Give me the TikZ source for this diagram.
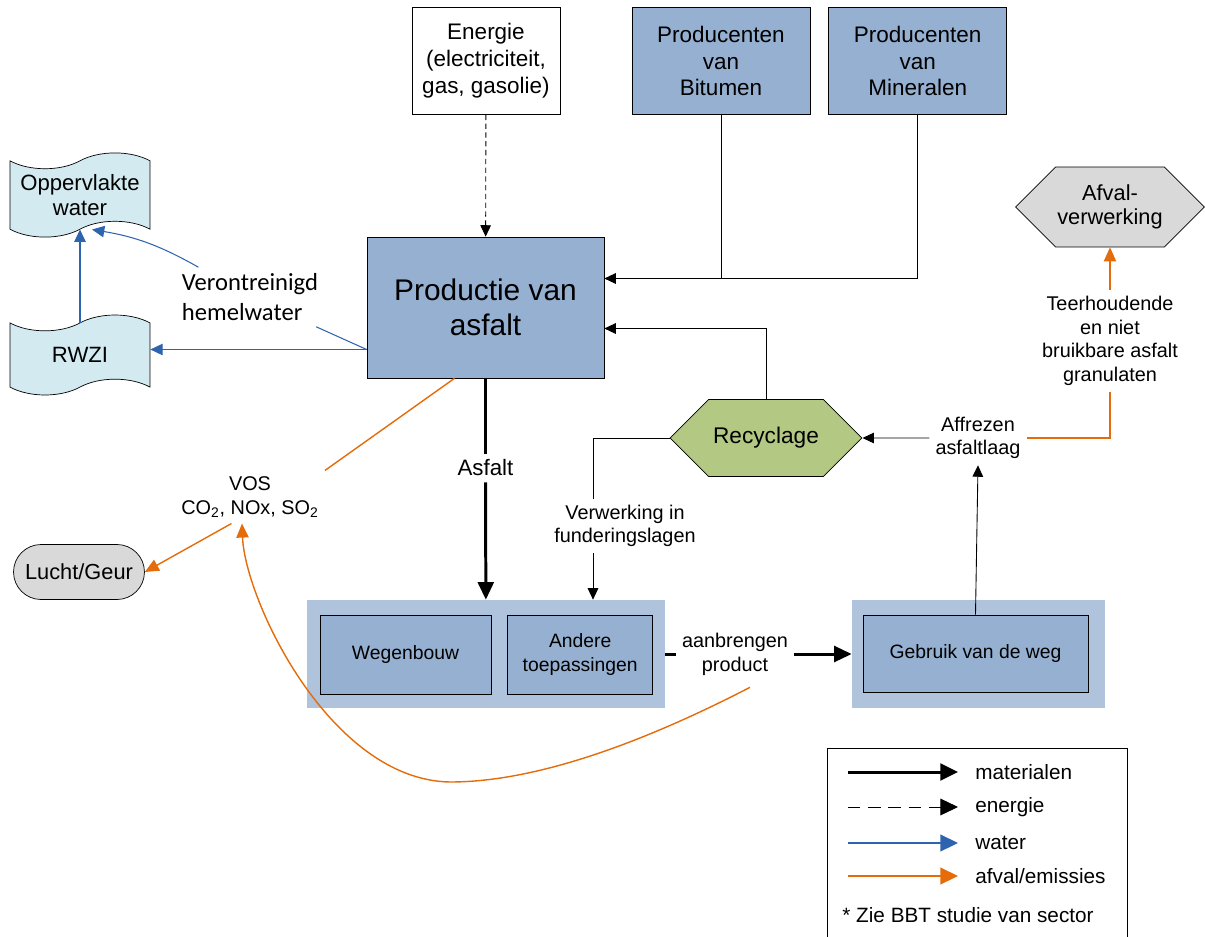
\documentclass[tikz,border=0pt]{standalone}
\usepackage{fontspec}
\setmainfont{Liberation Sans}
\newfontfamily\calibri{Carlito}
\usepackage{xcolor}
\usetikzlibrary{arrows.meta,positioning,shapes.geometric,shapes.symbols,shapes.misc}

\definecolor{boxblue}{RGB}{149,176,208}
\definecolor{grpblue}{RGB}{176,195,220}
\definecolor{recgreen}{RGB}{179,200,130}
\definecolor{tapecyan}{RGB}{210,234,240}
\definecolor{wastegray}{RGB}{217,217,217}
\definecolor{waterblue}{RGB}{46,100,175}
\definecolor{emisorange}{RGB}{228,108,10}

\begin{document}
\begin{tikzpicture}[x=0.02cm,y=-0.02cm,
box/.style={draw,align=center,inner sep=2pt,font=\fontsize{12.8}{15.3}\selectfont},
bluebox/.style={box,fill=boxblue},
group/.style={fill=grpblue,inner sep=0pt},
inbox/.style={draw,fill=boxblue,align=center,inner sep=2pt,minimum height=1.58cm,font=\fontsize{11}{13.6}\selectfont},
hexa/.style={signal,signal to=east and west,draw,align=center,inner sep=1pt},
tapebox/.style={tape,draw,fill=tapecyan,align=center,tape bend height=9pt,minimum width=2.8cm,minimum height=1.6cm,font=\fontsize{12.6}{14}\selectfont},
lbl/.style={align=center,font=\fontsize{11.3}{13.5}\selectfont},
leg/.style={anchor=west,inner sep=0pt,font=\fontsize{11.8}{14}\selectfont},
thinline/.style={line width=0.5pt},
matflow/.style={line width=1.7pt},
matarrow/.style={matflow,-{Triangle[length=10pt,width=9pt]}},
thinarrow/.style={thinline,-{Triangle[length=6.5pt,width=6pt]}},
enarrow/.style={thinarrow,dash pattern=on 3pt off 2pt},
waterline/.style={waterblue,line width=0.6pt},
waterarrow/.style={waterline,-{Triangle[length=7pt,width=6.5pt]}},
emisline/.style={emisorange,line width=0.8pt},
emisarrow/.style={emisline,-{Triangle[length=8pt,width=7pt]}},
leghead/.style={-{Triangle[length=10pt,width=9.5pt]}}
]
\useasboundingbox (0,0) rectangle (1205,937);

% sources
\node[box,minimum width=2.96cm,minimum height=2.14cm] (ene) at (486,61) {Energie\\(electriciteit,\\gas, gasolie)};
\node[bluebox,minimum width=3.56cm,minimum height=2.14cm] (bit) at (721,61) {Producenten\\van\\Bitumen};
\node[bluebox,minimum width=3.56cm,minimum height=2.14cm,right=0.36cm of bit] (min) {Producenten\\van\\Mineralen};

% production
\node[bluebox,minimum width=4.74cm,minimum height=2.82cm,font=\fontsize{17}{19.8}\selectfont] (prod) at (485.5,307.5) {Productie van\\asfalt};

% water
\node[tapebox] (opp) at (80,195) {Oppervlakte\\water};
\node[tapebox] (rwzi) at (80,355) {RWZI};
\node[align=left,font=\calibri\fontsize{14}{17}\selectfont] (hw) at (250,297) {Verontreinigd\\hemelwater};

% air and waste
\node[lbl] (vos) at (250,497) {VOS\\CO\textsubscript{2}, NOx, SO\textsubscript{2}};
\node[rounded rectangle,draw,fill=wastegray,inner xsep=2pt,minimum width=2.76cm,minimum height=1.1cm,font=\fontsize{12.4}{14}\selectfont] (lucht) at (79,572) {Lucht/Geur};
\node[hexa,fill=wastegray,minimum width=3.78cm,minimum height=1.6cm,font=\fontsize{12.4}{14}\selectfont] (afv) at (1110,207) {Afval-\\verwerking};
\node[lbl] (teer) at (1110,341) {Teerhoudende\\en niet\\bruikbare asfalt\\granulaten};

% recycling
\node[hexa,fill=recgreen,minimum width=3.84cm,minimum height=1.54cm,font=\fontsize{12.9}{15}\selectfont] (rec) at (766,438) {Recyclage};
\node[lbl] (aff) at (978,438) {Affrezen\\asfaltlaag};
\node[lbl] (verw) at (625,526) {Verwerking in\\funderingslagen};
\node[font=\fontsize{12.7}{15}\selectfont] (asf) at (485.5,468) {Asfalt};

% application and use
\node[group,minimum width=7.16cm,minimum height=2.16cm] (grp1) at (486,654) {};
\node[inbox,minimum width=3.42cm] (weg) at (405.5,654.5) {Wegenbouw};
\node[inbox,minimum width=2.9cm,right=0.32cm of weg] (andere) {Andere\\toepassingen};
\node[group,minimum width=5.06cm,minimum height=2.16cm] (grp2) at (978.5,654) {};
\node[inbox,minimum width=4.5cm,minimum height=1.54cm] (geb) at (975.5,653.5) {Gebruik van de weg};
\node[lbl] (aan) at (735,654) {aanbrengen\\product};

% connectors
\draw[enarrow] (ene) -- (prod);
\coordinate (pin1) at ([shift={(0,-29)}]prod.east);
\coordinate (pin2) at ([shift={(0,21)}]prod.east);
\draw[thinline] (bit.south) -- (bit.south |- pin1);
\draw[thinarrow] (min.south) |- (pin1);
\draw[thinarrow] (rec.north) |- (pin2);
\draw[matflow] (prod) -- (asf);
\draw[matarrow] (asf) -- (grp1);
\draw[matflow] (grp1.east) -- (aan);
\draw[matarrow] (aan) -- (grp2.west);
\coordinate (vtop) at ([shift={(-32,0)}]verw.north);
\coordinate (vbot) at ([shift={(-32,0)}]verw.south);
\draw[thinline] (rec.west) -| (vtop);
\draw[thinarrow] (vbot) -- (vbot |- grp1.north);
\draw[thinarrow] (aff) -- (rec);
\draw[thinarrow] (geb.north) -- (aff.south);

\coordinate (pw) at ([shift={(0,42)}]prod.west);
\draw[waterarrow] (pw) -- (pw -| rwzi.east);
\draw[waterline] (pw) -- (hw);
\draw[waterarrow] (hw.150) to[bend right=10] ([shift={(12,0)}]opp.south);
\draw[waterarrow] (rwzi.north) -- (opp.south);

\draw[emisline] ([shift={(-31,0)}]prod.south) -- (vos.north east);
\draw[emisarrow] (vos.-125) -- (lucht.east);
\draw[emisarrow] ([shift={(15,6)}]aan.south) .. controls (650,739) and (540,782) .. (450,782) .. controls (330,780) and (245,600) .. ([shift={(-8,0)}]vos.south);
\draw[emisline] (aff.east) -| (teer.south);
\draw[emisarrow] (teer.north) -- (afv.south);

% legend
\draw[thinline] (827,960) |- (1127,748) -- (1127,960);
\node[leg] (lmat) at (975,772) {materialen};
\node[leg] (lene) at (975,807) {energie};
\node[leg] (lwat) at (975,843) {water};
\node[leg] (lemi) at (975,876) {afval/emissies};
\node[leg,anchor=center] (lbbt) at (968,915) {* Zie BBT studie van sector};
\draw[matflow,leghead] ([shift={(-127,0)}]lmat.west) -- ([shift={(-17,0)}]lmat.west);
\draw[thinline,leghead,dash pattern=on 7pt off 4.5pt] ([shift={(-127,0)}]lene.west) -- ([shift={(-17,0)}]lene.west);
\draw[waterline,line width=1pt,leghead] ([shift={(-127,0)}]lwat.west) -- ([shift={(-17,0)}]lwat.west);
\draw[emisline,line width=1pt,leghead] ([shift={(-127,0)}]lemi.west) -- ([shift={(-17,0)}]lemi.west);
\end{tikzpicture}
\end{document}
